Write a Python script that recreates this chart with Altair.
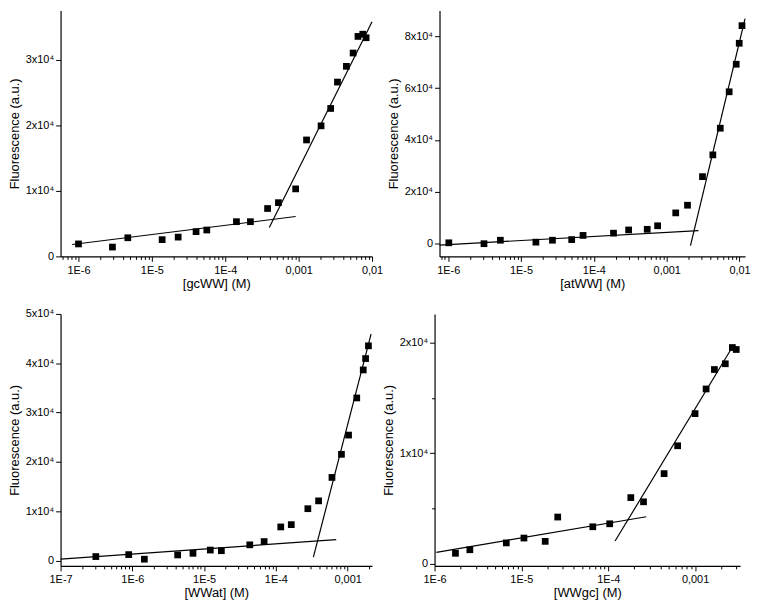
import altair as alt
import pandas as pd

# ---------------- data ----------------
# Panel 1: gcWW
gc_x = [1.0e-6, 2.9e-6, 4.7e-6, 1.38e-5, 2.28e-5, 4.0e-5, 5.6e-5, 1.42e-4, 2.2e-4,
        3.77e-4, 5.3e-4, 9.1e-4, 1.28e-3, 2.02e-3, 2.73e-3, 3.38e-3, 4.47e-3,
        5.52e-3, 6.43e-3, 7.47e-3, 8.3e-3]
gc_y = [1900, 1420, 2840, 2550, 2940, 3770, 4020, 5290, 5290, 7300, 8190, 10290,
        17750, 19900, 22550, 26570, 28970, 31000, 33530, 33870, 33330]
gc_low_x = [8.2e-7, 9.1e-4]
gc_low_y = [1810, 6080]
gc_high_x = [3.98e-4, 1.0e-2]
gc_high_y = [4410, 35780]

# Panel 2: atWW
at_x = [1.02e-6, 3.1e-6, 5.2e-6, 1.6e-5, 2.7e-5, 4.96e-5, 7.1e-5, 1.86e-4, 3.0e-4,
        5.4e-4, 7.5e-4, 1.33e-3, 1.93e-3, 3.1e-3, 4.3e-3, 5.44e-3, 7.2e-3, 9.0e-3,
        9.9e-3, 1.08e-2]
at_y = [250, -100, 1240, 500, 1240, 1490, 3100, 3970, 5210, 5460, 6820, 11800,
        14760, 25800, 34200, 44500, 58560, 69200, 77300, 84100]
at_low_x = [7.6e-7, 2.73e-3]
at_low_y = [-620, 4960]
at_high_x = [2.12e-3, 1.19e-2]
at_high_y = [-870, 86850]

# Panel 3: WWat
wa_x = [3.1e-7, 8.9e-7, 1.47e-6, 4.28e-6, 7.0e-6, 1.22e-5, 1.74e-5, 4.33e-5, 6.86e-5,
        1.17e-4, 1.64e-4, 2.79e-4, 3.94e-4, 6.05e-4, 8.2e-4, 1.03e-3, 1.34e-3,
        1.65e-3, 1.78e-3, 1.95e-3]
wa_y = [790, 1190, 260, 1120, 1450, 2110, 1980, 3170, 3830, 6800, 7270, 10500,
        12090, 16840, 21530, 25430, 32960, 38640, 40950, 43530]
wa_low_x = [1.0e-7, 6.93e-4]
wa_low_y = [260, 4230]
wa_high_x = [3.33e-4, 2.12e-3]
wa_high_y = [660, 45900]

# Panel 4: WWgc
wg_x = [1.74e-6, 2.55e-6, 6.7e-6, 1.07e-5, 1.88e-5, 2.62e-5, 6.64e-5, 1.04e-4,
        1.82e-4, 2.55e-4, 4.4e-4, 6.3e-4, 1.0e-3, 1.34e-3, 1.67e-3, 2.23e-3,
        2.69e-3, 2.98e-3]
wg_y = [940, 1260, 1880, 2320, 2020, 4220, 3340, 3610, 5980, 5600, 8150, 10670,
        13580, 15810, 17570, 18090, 19560, 19380]
wg_low_x = [1.05e-6, 2.74e-4]
wg_low_y = [1030, 4250]
wg_high_x = [1.2e-4, 2.78e-3]
wg_high_y = [2050, 19790]

FONT = "Liberation Sans"


def log_ticks(lo, hi):
    vals = []
    for e in range(-9, 0):
        for k in range(1, 10):
            v = k * 10.0 ** e
            if lo * 0.999 <= v <= hi * 1.001:
                vals.append(v)
    return vals


def panel(xs, ys, lx, ly, hx, hy, xdom, ydom, ystep, ymajor, xtitle, w, h):
    pts = pd.DataFrame({"x": xs, "y": ys})
    lines = pd.DataFrame({
        "x": lx + hx,
        "y": ly + hy,
        "seg": ["low", "low", "high", "high"],
    })
    # tick positions; drop a minor tick sitting right at the top edge
    yvals = [v for v in range(0, int(ydom[1]) + 1, ystep)
             if v % ymajor == 0 or v < ydom[1] - 0.03 * (ydom[1] - ydom[0])]
    is_major_x = "abs(log(datum.value)/LN10 - round(log(datum.value)/LN10)) < 0.01"
    xaxis = alt.Axis(
        title=xtitle,
        values=log_ticks(*xdom),
        labelExpr=(
            f"({is_major_x}) ? (round(log(datum.value)/LN10) == -3 ? '0,001' : "
            "(round(log(datum.value)/LN10) == -2 ? '0,01' : '1E' + round(log(datum.value)/LN10))) : ''"
        ),
        tickSize={"condition": {"test": is_major_x, "value": 5}, "value": 3},
        labelOverlap=False,
        labelFlush=False,
        labelBound=False,
        grid=False,
        titlePadding=2,
        labelPadding=3,
    )
    yaxis = alt.Axis(
        title="Fluorescence (a.u.)",
        values=yvals,
        labelExpr=(
            f"datum.value % {ymajor} == 0 ? (datum.value == 0 ? '0' : "
            "(datum.value/10000) + 'x10\u2074') : ''"
        ),
        tickSize={"condition": {"test": f"datum.value % {ymajor} == 0", "value": 5},
                  "value": 3},
        labelOverlap=False,
        labelFlush=False,
        grid=False,
        titlePadding=4,
        labelPadding=2,
    )
    xs_ = alt.Scale(type="log", domain=list(xdom), nice=False)
    ys_ = alt.Scale(domain=list(ydom), nice=False, zero=False)
    p = alt.Chart(pts).mark_square(size=46, color="black", opacity=1).encode(
        x=alt.X("x:Q", scale=xs_, axis=xaxis),
        y=alt.Y("y:Q", scale=ys_, axis=yaxis),
    )
    l = alt.Chart(lines).mark_line(color="black", strokeWidth=1.2).encode(
        x=alt.X("x:Q", scale=xs_),
        y=alt.Y("y:Q", scale=ys_),
        detail="seg:N",
    )
    return alt.layer(l, p).properties(width=w, height=h)


p1 = panel(gc_x, gc_y, gc_low_x, gc_low_y, gc_high_x, gc_high_y,
           (5.7e-7, 1.0e-2), (0, 37500), 5000, 10000, "[gcWW] (M)", 314, 248)
p2 = panel(at_x, at_y, at_low_x, at_low_y, at_high_x, at_high_y,
           (7.6e-7, 1.19e-2), (-5000, 90000), 10000, 20000, "[atWW] (M)", 308, 248)
p3 = panel(wa_x, wa_y, wa_low_x, wa_low_y, wa_high_x, wa_high_y,
           (1.0e-7, 2.19e-3), (-1100, 50000), 5000, 10000, "[WWat] (M)", 314, 254)
p4 = panel(wg_x, wg_y, wg_low_x, wg_low_y, wg_high_x, wg_high_y,
           (1.0e-6, 3.3e-3), (-200, 22600), 5000, 10000, "[WWgc] (M)", 308, 254)

chart = alt.vconcat(
    alt.hconcat(p1, p2, spacing=4),
    alt.hconcat(p3, p4, spacing=8),
    spacing=18,
).properties(padding=0, background="white").configure_view(stroke=None).configure_axis(
    domainColor="black",
    tickColor="black",
    labelColor="black",
    titleColor="black",
    labelFont=FONT,
    titleFont=FONT,
    labelFontSize=11,
    titleFontSize=13,
    titleFontWeight="normal",
    domainWidth=1.2,
    tickWidth=1,
)

chart.save("out.html", embed_options={"renderer": "svg", "actions": False})
